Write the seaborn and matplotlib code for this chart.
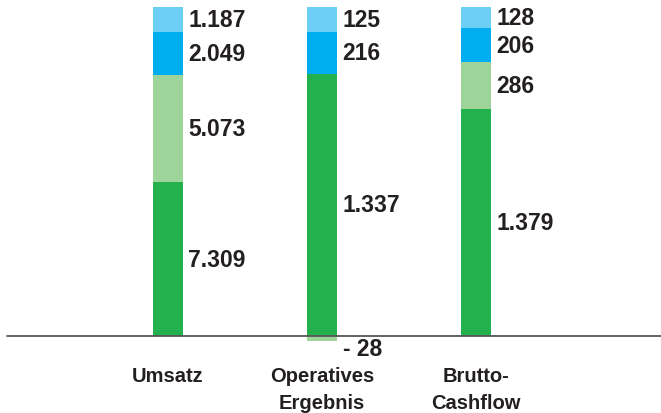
import numpy as np
import pandas as pd
import matplotlib
matplotlib.use('Agg')
import matplotlib.pyplot as plt
import seaborn as sns

# ── Data ─────────────────────────────────────────────────────────────────────
categories  = ['Umsatz', 'Operatives\nErgebnis', 'Brutto-\nCashflow']
dark_green  = [7309, 1337, 1379]   # bottom segment
light_green = [5073,  -28,  286]
blue        = [2049,  216,  206]
light_blue  = [1187,  125,  128]   # top segment

colors = {'dark_green': '#22b14c', 'light_green': '#9cd49a',
          'blue': '#00aeef', 'light_blue': '#6dcff6'}
TEXT = '#231f20'

sns.set_theme(style='white')
plt.rcParams['font.family'] = ['Liberation Sans', 'DejaVu Sans']

# ── Build stacked (cumulative, normalised to positive total) ────────────────
df = pd.DataFrame({'cat': categories, 'dark_green': dark_green,
                   'light_green': light_green, 'blue': blue,
                   'light_blue': light_blue})
seg_order = ['dark_green', 'light_green', 'blue', 'light_blue']
pos = df[seg_order].clip(lower=0)
neg = df[seg_order].clip(upper=0)
total = pos.sum(axis=1)
cum_top = pos.cumsum(axis=1).div(total, axis=0) * 100
cum_bot = cum_top - pos.div(total, axis=0) * 100
neg_pct = neg.div(total, axis=0) * 100

# ── Figure ───────────────────────────────────────────────────────────────────
fig = plt.figure(figsize=(6.61, 4.14), dpi=100)
ax = fig.add_axes([0, 0, 1, 1])

# draw from top segment down so each shorter bar covers the one behind it
for seg in reversed(seg_order):
    sns.barplot(x=df['cat'], y=cum_top[seg], color=colors[seg], width=0.2,
                saturation=1, linewidth=0, ax=ax)
for seg in seg_order:
    if (neg_pct[seg] < 0).any():
        sns.barplot(x=df['cat'], y=neg_pct[seg], color=colors[seg], width=0.2,
                    saturation=1, linewidth=0, ax=ax)

# baseline
ax.axhline(0, xmin=7 / 661, xmax=1, color='#555555', lw=1.3, zorder=5)

# value labels
for i in range(len(df)):
    for seg in seg_order:
        v = df.loc[i, seg]
        lab = f"{abs(v):,}".replace(',', '.')
        if v < 0:
            ax.annotate('- ' + lab, (i + 0.1, neg_pct.loc[i, seg]),
                        xytext=(4, -5), textcoords='offset points',
                        ha='left', va='center', fontsize=16.5,
                        fontweight='bold', color=TEXT)
        else:
            mid = (cum_top.loc[i, seg] + cum_bot.loc[i, seg]) / 2
            ax.annotate(lab, (i + 0.1, mid), xytext=(3.5, 0),
                        textcoords='offset points', ha='left',
                        va='center', fontsize=16.5,
                        fontweight='bold', color=TEXT)

# category labels
for i, cat in enumerate(categories):
    ax.text(i, -9.2, cat, ha='center', va='top', fontsize=14.5,
            fontweight='bold', color=TEXT, linespacing=1.5)

ax.set_xlim(-168 / 154, -168 / 154 + 661 / 154)
ax.set_ylim(-(414 - 337) / 3.29, 100 + 8 / 3.29)
ax.axis('off')

fig.savefig('out.png', dpi=100)
